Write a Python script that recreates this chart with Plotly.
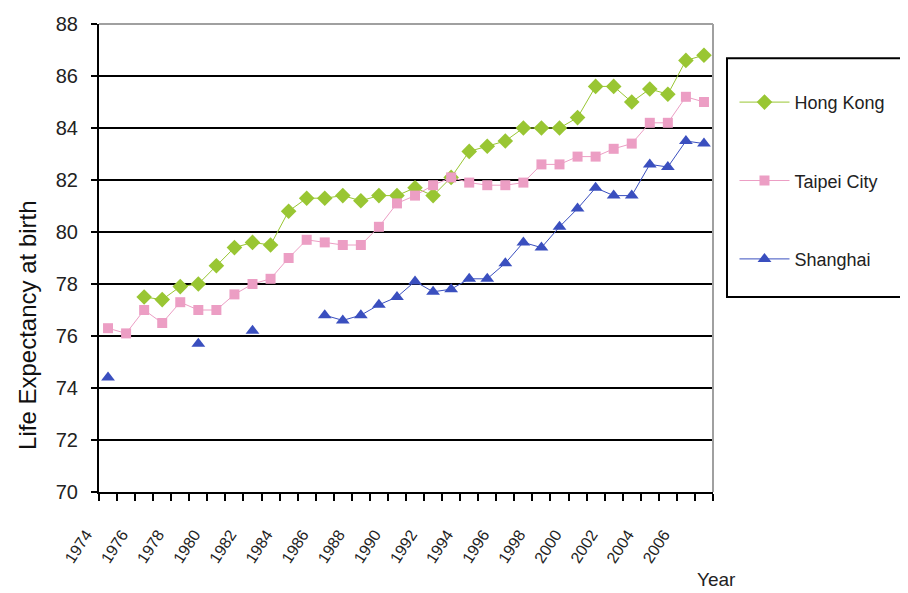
import plotly.graph_objects as go

years = list(range(1974, 2008))

hong_kong = [None, None, 77.5, 77.4, 77.9, 78.0, 78.7, 79.4, 79.6, 79.5,
             80.8, 81.3, 81.3, 81.4, 81.2, 81.4, 81.4, 81.7, 81.4, 82.1,
             83.1, 83.3, 83.5, 84.0, 84.0, 84.0, 84.4, 85.6, 85.6, 85.0,
             85.5, 85.3, 86.6, 86.8]

taipei_city = [76.3, 76.1, 77.0, 76.5, 77.3, 77.0, 77.0, 77.6, 78.0, 78.2,
               79.0, 79.7, 79.6, 79.5, 79.5, 80.2, 81.1, 81.4, 81.8, 82.1,
               81.9, 81.8, 81.8, 81.9, 82.6, 82.6, 82.9, 82.9, 83.2, 83.4,
               84.2, 84.2, 85.2, 85.0]

shanghai = [74.4, None, None, None, None, 75.7, None, None, 76.2, None,
            None, None, 76.8, 76.6, 76.8, 77.2, 77.5, 78.1, 77.7, 77.8,
            78.2, 78.2, 78.8, 79.6, 79.4, 80.2, 80.9, 81.7, 81.4, 81.4,
            82.6, 82.5, 83.5, 83.4]

x_tick_years = list(range(1974, 2007, 2))
y_ticks = list(range(70, 89, 2))

series = [
    ("Hong Kong", hong_kong, "#99C633", "diamond", 12),
    ("Taipei City", taipei_city, "#EC9EC4", "square", 10),
    ("Shanghai", shanghai, "#3A4FBF", "triangle-up", 12),
]

FONT = "Liberation Sans, Arial, sans-serif"

fig = go.Figure()
for i, (name, vals, color, sym, size) in enumerate(series):
    fig.add_trace(go.Scatter(
        x=years, y=vals, name=name, mode="lines+markers",
        connectgaps=False, legendgroup=f"g{i}",
        line=dict(color=color, width=1),
        marker=dict(symbol=sym, size=size, color=color),
    ))

fig.update_layout(
    width=900, height=585,
    margin=dict(l=91, r=195, t=16, b=101, autoexpand=False),
    paper_bgcolor="white", plot_bgcolor="white",
    font=dict(family=FONT, color="#222222", size=18),
    showlegend=True,
    legend=dict(
        x=1.035, xanchor="left", y=0.872, yanchor="top",
        bgcolor="rgba(0,0,0,0)", borderwidth=0,
        tracegroupgap=52, itemwidth=50,
        font=dict(size=18, family=FONT, color="#222222"),
    ),
    xaxis=dict(
        range=[1973.5, 2007.5], tickmode="array", tickvals=x_tick_years,
        ticktext=[str(y) for y in x_tick_years], tickangle=-57,
        ticks="", showgrid=False, zeroline=False, automargin=False,
        showline=True, linecolor="black", linewidth=2,
        tickfont=dict(size=16, family=FONT, color="#222222"),
        ticklabelstandoff=25, ticklabelshift=-22,
        minor=dict(tick0=1973.5, dtick=1, ticks="outside", ticklen=7,
                   tickcolor="black", tickwidth=1.5, showgrid=False),
    ),
    yaxis=dict(
        range=[70, 88], tickmode="array", tickvals=y_ticks,
        ticks="outside", ticklen=6, tickcolor="black", tickwidth=1.5,
        showgrid=True, gridcolor="black", gridwidth=2, zeroline=False,
        showline=True, linecolor="black", linewidth=2, automargin=False,
        ticklabelstandoff=9,
        tickfont=dict(size=20, family=FONT, color="#222222"),
    ),
    annotations=[
        dict(text="Year", xref="paper", yref="paper", x=1.0065, y=-0.186,
             xanchor="center", yanchor="middle", showarrow=False,
             font=dict(size=19, family=FONT, color="#222222")),
        dict(text="Life Expectancy at birth", xref="paper", yref="paper",
             x=-0.1156, y=0.355, xanchor="center", yanchor="middle",
             textangle=-90, showarrow=False,
             font=dict(size=24, family=FONT, color="#111111")),
    ],
    shapes=[
        dict(type="line", xref="paper", yref="paper", x0=0, x1=1, y0=1, y1=1,
             line=dict(color="#A0A0A0", width=2)),
        dict(type="line", xref="paper", yref="paper", x0=1, x1=1, y0=0, y1=1,
             line=dict(color="#A0A0A0", width=2)),
        dict(type="rect", xref="paper", yref="paper", x0=1.0228, x1=1.33,
             y0=0.4167, y1=0.927, line=dict(color="black", width=2),
             fillcolor="rgba(0,0,0,0)"),
    ],
)

fig.write_html("out.html")
